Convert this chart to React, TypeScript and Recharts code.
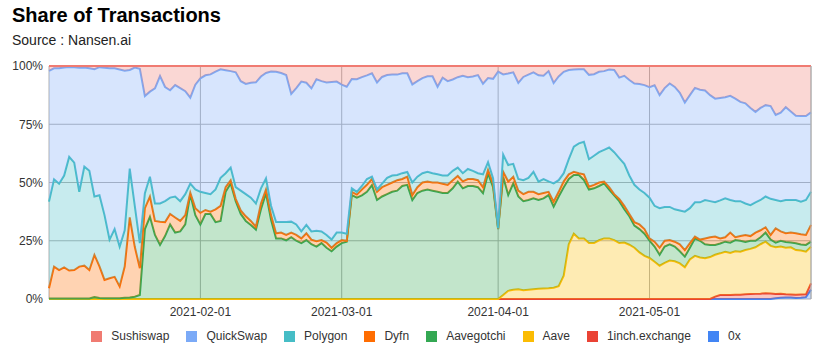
import React from "react";
import { AreaChart, Area, XAxis, YAxis, CartesianGrid, ReferenceLine } from "recharts";

// Daily categories 2021-01-02 .. 2021-06-02
const START = Date.UTC(2021, 0, 2);
const DAY = 86400000;
const N = 152;
const dates: string[] = Array.from({ length: N }, (_, i) =>
  new Date(START + i * DAY).toISOString().slice(0, 10)
);

const xTicks = ["2021-02-01", "2021-03-01", "2021-04-01", "2021-05-01"];
const yTicks = [0, 0.25, 0.5, 0.75, 1];

// Share values (%), one per day
const sushiswap = [
  2.1, 1.0, 1.0, 0.6, 0.4, 0.5, 0.8, 0.6, 1.0, 1.4,
  0.5, 0.8, 1.0, 1.0, 1.5, 2.0, 1.7, 0.7, 1.2, 12.9,
  11.0, 9.6, 4.3, 9.0, 10.4, 8.2, 9.5, 10.8, 13.6, 8.0,
  5.3, 4.0, 3.6, 2.4, 1.4, 1.8, 2.2, 2.7, 6.5, 7.7,
  7.2, 7.0, 4.5, 3.0, 2.4, 2.5, 3.0, 3.9, 12.0, 9.5,
  6.7, 7.2, 9.6, 5.7, 6.5, 7.1, 6.9, 6.7, 8.0, 8.9,
  5.6, 5.7, 4.8, 4.0, 3.1, 7.1, 4.7, 3.9, 3.7, 3.7,
  3.1, 3.1, 7.9, 6.5, 5.2, 4.4, 4.4, 8.9, 5.0, 6.5,
  5.8, 4.8, 4.2, 4.8, 4.5, 3.9, 7.6, 5.2, 5.5, 2.4,
  3.6, 3.2, 2.7, 7.3, 4.7, 3.7, 2.7, 4.0, 4.2, 2.2,
  7.3, 4.5, 2.5, 1.7, 1.5, 1.4, 1.4, 3.8, 3.5, 2.5,
  2.2, 1.5, 1.7, 5.0, 4.2, 6.0, 7.5, 7.7, 8.2, 9.1,
  8.3, 12.5, 9.5, 7.5, 9.0, 11.5, 15.7, 12.5, 9.4, 10.2,
  10.5, 12.5, 14.0, 13.7, 13.4, 12.8, 14.0, 15.4, 16.0, 18.0,
  19.7, 18.0, 16.8, 17.2, 21.0, 20.0, 17.7, 19.5, 21.4, 21.5,
  21.5, 19.9,
];

const quickswap = [
  56.1, 47.6, 49.5, 46.4, 38.6, 41.0, 53.2, 42.6, 44.0, 54.6,
  55.0, 63.2, 73.5, 69.0, 76.1, 68.5, 42.3, 59.3, 74.8, 41.7,
  36.5, 49.4, 54.7, 49.0, 46.1, 47.8, 48.5, 44.2, 36.9, 45.0,
  48.7, 50.5, 51.4, 50.6, 46.6, 44.2, 41.4, 49.3, 47.0, 47.3,
  49.3, 52.0, 48.0, 45.2, 57.6, 64.5, 64.0, 63.1, 54.8, 58.5,
  64.3, 61.0, 61.4, 65.0, 64.5, 65.4, 67.6, 64.8, 63.5, 63.1,
  46.9, 48.3, 46.7, 44.5, 44.4, 45.9, 45.8, 44.1, 43.3, 43.1,
  42.9, 42.4, 42.1, 41.0, 40.8, 41.0, 41.6, 37.6, 42.0, 40.5,
  39.2, 38.8, 41.8, 39.4, 40.5, 42.1, 38.9, 36.1, 42.7, 67.3,
  34.4, 39.3, 39.3, 41.2, 44.3, 44.3, 42.7, 45.6, 44.3, 47.3,
  43.1, 44.5, 43.5, 38.3, 33.1, 31.8, 31.1, 36.2, 35.0, 34.5,
  33.8, 33.5, 35.3, 34.5, 37.8, 41.0, 43.5, 45.3, 46.3, 47.4,
  51.7, 48.5, 51.0, 53.0, 52.5, 50.5, 46.8, 48.5, 49.1, 48.3,
  47.0, 45.5, 44.5, 44.0, 43.4, 44.7, 44.0, 42.6, 43.0, 41.7,
  38.8, 39.5, 39.2, 39.8, 36.5, 38.0, 39.8, 38.0, 36.1, 36.7,
  36.0, 34.1,
];

const polygon = [
  37.2, 37.5, 37.1, 39.4, 48.8, 46.1, 32.1, 42.5, 42.6, 25.1,
  30.5, 27.8, 16.6, 20.5, 17.0, 15.6, 21.0, 17.6, 10.8, 6.4,
  8.5, 7.5, 7.8, 9.0, 7.0, 9.0, 8.5, 9.0, 3.9, 8.0,
  9.0, 7.3, 7.5, 8.5, 12.0, 6.0, 5.4, 5.0, 8.5, 9.5,
  10.0, 10.0, 6.5, 4.8, 4.0, 4.8, 4.5, 5.5, 4.7, 4.5,
  3.0, 3.6, 3.5, 4.5, 3.7, 3.3, 3.5, 4.5, 3.2, 3.0,
  1.5, 1.2, 1.5, 2.5, 1.0, 1.0, 1.5, 3.0, 3.0, 2.2,
  2.5, 2.0, 5.4, 4.5, 4.0, 4.2, 4.0, 3.5, 3.5, 4.0,
  4.0, 3.6, 3.5, 4.3, 3.5, 3.0, 5.5, 3.3, 2.3, 0.1,
  7.4, 7.1, 5.5, 5.0, 6.0, 6.0, 8.6, 5.4, 6.0, 4.5,
  7.8, 5.0, 3.5, 6.5, 10.8, 12.8, 14.0, 11.8, 12.5, 13.0,
  13.6, 17.0, 18.0, 17.5, 18.0, 16.5, 16.0, 15.0, 15.5, 17.5,
  15.4, 17.0, 14.5, 14.2, 13.9, 14.5, 16.5, 15.0, 14.7, 16.0,
  16.5, 15.5, 14.7, 16.3, 16.7, 14.0, 15.5, 15.0, 13.5, 13.3,
  13.0, 13.0, 13.2, 15.5, 12.2, 13.0, 14.3, 14.0, 14.3, 14.0,
  15.0, 14.2,
];

const dyfn = [
  4.4, 13.7, 12.2, 13.4, 12.0, 12.2, 13.7, 14.1, 12.2, 18.1,
  13.6, 7.9, 8.6, 9.2, 5.1, 13.4, 34.4, 21.4, 11.5, 9.0,
  8.7, 6.0, 10.0, 6.0, 4.5, 6.5, 4.5, 4.0, 0.6, 3.0,
  5.0, 1.7, 1.0, 5.5, 6.5, 2.0, 1.4, 1.0, 1.5, 2.0,
  1.7, 1.2, 2.5, 1.6, 2.0, 2.2, 2.5, 2.3, 2.0, 2.5,
  2.0, 2.9, 2.0, 2.3, 1.3, 2.2, 1.5, 1.5, 1.3, 0.4,
  1.4, 1.3, 2.5, 3.0, 2.6, 3.5, 4.0, 4.0, 4.0, 4.5,
  3.0, 3.5, 2.1, 2.5, 3.5, 3.4, 3.5, 4.0, 4.0, 3.5,
  3.5, 2.4, 3.0, 3.0, 3.0, 3.0, 2.6, 1.5, 1.5, 0.2,
  2.1, 5.8, 2.9, 2.5, 3.0, 3.5, 2.8, 2.5, 2.3, 1.4,
  2.2, 2.0, 2.5, 2.0, 1.4, 0.8, 2.4, 1.2, 1.5, 1.5,
  0.8, 1.0, 0.5, 1.0, 1.5, 1.0, 1.5, 2.0, 2.0, 1.0,
  2.1, 3.0, 2.5, 1.8, 2.1, 3.0, 2.8, 2.0, 0.8, 0.5,
  2.5, 3.3, 3.6, 2.2, 1.9, 4.3, 1.2, 2.0, 3.0, 2.0,
  3.5, 3.0, 2.3, 2.0, 6.1, 4.0, 3.7, 4.3, 4.3, 4.4,
  4.3, 7.2,
];

const aavegotchi = [
  0.2, 0.2, 0.2, 0.2, 0.2, 0.2, 0.2, 0.2, 0.2, 0.8,
  0.4, 0.3, 0.3, 0.3, 0.3, 0.5, 0.6, 1.0, 1.7, 30.0,
  35.3, 27.5, 23.2, 27.0, 32.0, 28.5, 29.0, 32.0, 45.0, 36.0,
  32.0, 36.5, 36.5, 33.0, 33.5, 46.0, 49.6, 42.0, 36.5, 33.5,
  31.8, 29.8, 38.5, 45.4, 34.0, 26.0, 26.0, 25.2, 26.5, 25.0,
  24.0, 25.3, 23.5, 22.5, 24.0, 22.0, 20.5, 22.5, 24.0, 24.6,
  44.6, 43.5, 44.5, 46.0, 48.9, 42.5, 44.0, 45.0, 46.0, 46.5,
  48.5, 49.0, 42.5, 45.5, 46.5, 47.0, 46.5, 46.0, 45.5, 45.5,
  47.5, 50.4, 47.5, 48.5, 48.5, 48.0, 45.4, 53.9, 48.0, 30.0,
  50.8, 41.1, 45.6, 39.8, 38.2, 38.5, 39.0, 38.1, 38.7, 40.0,
  34.8, 38.5, 38.0, 28.0, 25.2, 27.2, 25.1, 23.0, 23.5, 23.3,
  23.6, 21.0, 19.2, 18.0, 14.3, 12.2, 9.5, 10.0, 9.5, 7.4,
  6.5, 4.7, 7.0, 7.0, 6.3, 5.2, 4.6, 5.0, 7.5, 7.2,
  6.0, 5.2, 4.2, 4.2, 4.3, 4.4, 4.8, 4.7, 3.5, 3.5,
  2.8, 3.0, 3.9, 2.7, 2.0, 2.5, 2.5, 2.0, 2.9, 2.6,
  2.9, 2.2,
];

const aave = [
  0, 0, 0, 0, 0, 0, 0, 0, 0, 0,
  0, 0, 0, 0, 0, 0, 0, 0, 0, 0,
  0, 0, 0, 0, 0, 0, 0, 0, 0, 0,
  0, 0, 0, 0, 0, 0, 0, 0, 0, 0,
  0, 0, 0, 0, 0, 0, 0, 0, 0, 0,
  0, 0, 0, 0, 0, 0, 0, 0, 0, 0,
  0, 0, 0, 0, 0, 0, 0, 0, 0, 0,
  0, 0, 0, 0, 0, 0, 0, 0, 0, 0,
  0, 0, 0, 0, 0, 0, 0, 0, 0, 0,
  1.7, 3.5, 4.0, 4.2, 3.8, 4.0, 4.2, 4.4, 4.5, 4.6,
  4.8, 5.5, 10.0, 23.5, 28.0, 26.0, 26.0, 24.0, 24.0, 25.2,
  26.0, 26.0, 25.3, 24.0, 24.2, 23.3, 22.0, 20.0, 18.5, 17.6,
  16.0, 14.3, 15.5, 16.5, 16.2, 15.3, 13.6, 17.0, 18.5, 17.8,
  17.5, 18.0, 18.0, 17.9, 18.6, 18.1, 18.7, 18.5, 19.0, 19.4,
  20.0, 21.2, 22.1, 20.4, 20.0, 20.2, 20.0, 20.3, 19.2, 18.9,
  18.3, 15.7,
];

const oneInch = [
  0, 0, 0, 0, 0, 0, 0, 0, 0, 0,
  0, 0, 0, 0, 0, 0, 0, 0, 0, 0,
  0, 0, 0, 0, 0, 0, 0, 0, 0, 0,
  0, 0, 0, 0, 0, 0, 0, 0, 0, 0,
  0, 0, 0, 0, 0, 0, 0, 0, 0, 0,
  0, 0, 0, 0, 0, 0, 0, 0, 0, 0,
  0, 0, 0, 0, 0, 0, 0, 0, 0, 0,
  0, 0, 0, 0, 0, 0, 0, 0, 0, 0,
  0, 0, 0, 0, 0, 0, 0, 0, 0, 0,
  0, 0, 0, 0, 0, 0, 0, 0, 0, 0,
  0, 0, 0, 0, 0, 0, 0, 0, 0, 0,
  0, 0, 0, 0, 0, 0, 0, 0, 0, 0,
  0, 0, 0, 0, 0, 0, 0, 0, 0, 0,
  0, 0, 1.0, 1.7, 1.7, 1.7, 1.8, 1.8, 2.0, 2.1,
  2.2, 2.3, 2.5, 2.4, 1.9, 1.8, 1.4, 1.3, 1.4, 1.4,
  1.2, 2.7,
];

const zeroX = [
  0, 0, 0, 0, 0, 0, 0, 0, 0, 0,
  0, 0, 0, 0, 0, 0, 0, 0, 0, 0,
  0, 0, 0, 0, 0, 0, 0, 0, 0, 0,
  0, 0, 0, 0, 0, 0, 0, 0, 0, 0,
  0, 0, 0, 0, 0, 0, 0, 0, 0, 0,
  0, 0, 0, 0, 0, 0, 0, 0, 0, 0,
  0, 0, 0, 0, 0, 0, 0, 0, 0, 0,
  0, 0, 0, 0, 0, 0, 0, 0, 0, 0,
  0, 0, 0, 0, 0, 0, 0, 0, 0, 0,
  0, 0, 0, 0, 0, 0, 0, 0, 0, 0,
  0, 0, 0, 0, 0, 0, 0, 0, 0, 0,
  0, 0, 0, 0, 0, 0, 0, 0, 0, 0,
  0, 0, 0, 0, 0, 0, 0, 0, 0, 0,
  0, 0, 0, 0, 0, 0, 0, 0, 0, 0,
  0, 0, 0, 0, 0.3, 0.5, 0.6, 0.6, 0.4, 0.5,
  0.8, 4.0,
];

// Stack order bottom -> top
const seriesKeys = ["zx", "inch", "aave", "gotchi", "dyfn", "polygon", "quick", "sushi"];
const seriesNames = ["0x", "1inch.exchange", "Aave", "Aavegotchi", "Dyfn", "Polygon", "QuickSwap", "Sushiswap"];
const seriesColors = ["#4285F4", "#EA4335", "#FBBC04", "#34A853", "#FF6D01", "#46BDC6", "#7BAAF7", "#F07B72"];
const seriesValues = [zeroX, oneInch, aave, aavegotchi, dyfn, polygon, quickswap, sushiswap];

const data = dates.map((date, i) => {
  const row: Record<string, number | string> = { date };
  seriesKeys.forEach((k, s) => {
    row[k] = seriesValues[s][i];
  });
  return row;
});

const FONT = "'Liberation Sans', Arial, Helvetica, sans-serif";

export default function App() {
  const legendOrder = [...seriesNames.keys()].reverse();
  return (
    <div
      style={{
        position: "absolute",
        left: 0,
        top: 0,
        width: 832,
        height: 352,
        background: "#fff",
        fontFamily: FONT,
        overflow: "hidden",
      }}
    >
      <div style={{ position: "absolute", left: 12, top: 5, fontSize: 20, lineHeight: "20px", fontWeight: 700, color: "#000" }}>
        Share of Transactions
      </div>
      <div style={{ position: "absolute", left: 12, top: 33, fontSize: 14, lineHeight: "14px", color: "#222" }}>
        Source : Nansen.ai
      </div>
      <div style={{ position: "absolute", left: 0, top: 0 }}>
        <AreaChart
          width={832}
          height={352}
          data={data}
          stackOffset="expand"
          margin={{ top: 66, right: 21, bottom: 23, left: 4 }}
        >
          <CartesianGrid stroke="#b0b0b0" strokeWidth={1} />
          <XAxis
            dataKey="date"
            ticks={xTicks}
            interval={0}
            axisLine={false}
            tickLine={false}
            height={30}
            tick={{ fill: "#333", fontSize: 12, fontFamily: FONT }}
          />
          <YAxis
            type="number"
            domain={[0, 1]}
            ticks={yTicks}
            tickFormatter={(v: number) => `${Math.round(v * 100)}%`}
            axisLine={false}
            tickLine={false}
            tickSize={0}
            tickMargin={6}
            width={45}
            tick={{ fill: "#333", fontSize: 12, fontFamily: FONT }}
          />
          {seriesKeys.map((k, s) => (
            <Area
              key={k}
              type="linear"
              dataKey={k}
              name={seriesNames[s]}
              stackId="1"
              stroke={seriesColors[s]}
              strokeWidth={2}
              fill={seriesColors[s]}
              fillOpacity={0.3}
              dot={false}
              activeDot={false}
              isAnimationActive={false}
            />
          ))}
          <ReferenceLine x={dates[N - 1]} stroke="#b0b0b0" strokeWidth={1} />
        </AreaChart>
      </div>
      <div
        style={{
          position: "absolute",
          left: 0,
          top: 330,
          width: 832,
          height: 13,
          display: "flex",
          justifyContent: "center",
          alignItems: "center",
          gap: 17,
          fontSize: 12,
          lineHeight: "13px",
          color: "#333",
        }}
      >
        {legendOrder.map((s) => (
          <div key={seriesKeys[s]} style={{ display: "flex", alignItems: "center" }}>
            <span style={{ display: "inline-block", width: 11, height: 11, background: seriesColors[s], marginRight: 9 }} />
            <span>{seriesNames[s]}</span>
          </div>
        ))}
      </div>
    </div>
  );
}
